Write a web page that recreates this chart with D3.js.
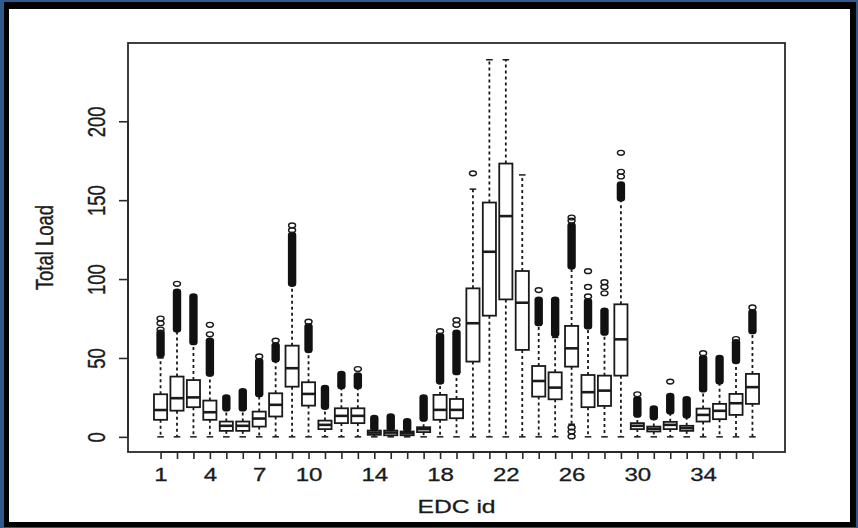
<!DOCTYPE html>
<html>
<head>
<meta charset="utf-8">
<script src="https://cdn.jsdelivr.net/npm/d3@7"></script>
<style>
  html, body { margin: 0; padding: 0; background: #2e5a8c; }
  svg { display: block; }
</style>
</head>
<body>
<svg id="chart" width="858" height="528"></svg>
<script>
// EDC ids and box statistics
const ids      = [1,2,3,4,5,6,7,8,9,10,11,12,13,14,15,16,17,18,19,20,21,22,23,24,25,26,27,28,29,30,31,32,33,34,35,36,37];
const q1       = [10.8,16.6,18.8,10.8,3.8,3.8,6.5,12.9,31.8,19.8,4.9,8.7,8.7,1.3,1.0,1.0,3.0,10.8,11.8,47.7,76.8,87.1,55.1,25.5,23.8,44.5,18.8,19.6,38.8,4.9,3.4,4.9,3.8,9.7,11.2,13.9,20.9];
const medians  = [17,24.5,25,15.6,7,7,11.6,20.3,43.5,27.2,7.6,13.3,13.3,2.7,2.7,2.3,4.9,17.1,17.1,72,117.3,139.9,85,35.4,31.2,56.1,28.3,29.3,61.8,7,5.1,7.6,5.5,13.9,16.5,21.3,31.5];
const q3       = [27,38.2,36,23,9.7,9.7,16,27.6,57.8,34.6,10.3,18.1,18.1,4.0,4.0,3.4,6.1,26.6,24,94.1,148.5,173.2,105.1,44.9,40.9,70.3,39.2,38.8,84,8.7,6.5,9.5,7,17.9,20.9,27.2,39.9];
const whiskLo  = [0,0,0,0,0,0,0,0,0,0,0,0,0,0,0,0,0,0,0,0,0,0,0,0,0,8,0,0,0,0,0,0,0,0,0,0,0];
const whiskHi  = [50,67,59,39,17,17,26,48,96,54,18,31,31,5,5,4.5,10.5,34,40,157,239,239,166,71,63,107,69,65,150,13,11.5,15,12.5,29,34,47,66];
// overplotted outlier runs (low, high) that print as solid black
const denseLo  = [52,68,60,40,18,18,27,49,97,55,19,32,32,5.5,5.5,5,11.5,35,41,null,null,null,null,72,65,108,70,66,151,14,12.5,16,13.5,30,35,48,67];
const denseHi  = [66,92,89,61,25,29,48,58,128,70,31,40,39,12,13,10,25,64,66,null,null,null,null,87,87,134,86,80,160,24,18,26,24,50,50,60,79];
// single visible outlier circles
const outliers = [[68,72,75],[97],[],[65,71],[],[],[51],[61],[131,134],[73],[],[],[43],[],[],[],[],[67],[71,74],[167],[],[],[],[93],[],[0.3,3.4,6,137,139],[89,95,105],[91,95,98],[165,168,180],[27],[],[35],[],[53],[],[62],[82]];

const yTicks = [0, 50, 100, 150, 200];
const xLabels = [1, 4, 7, 10, 14, 18, 22, 26, 30, 34];

const svg = d3.select("#chart");
const W = 858, H = 528;
const plot = { left: 128, right: 785, top: 43, bottom: 452 };
const stretch = 1.3;   // the source picture is widened horizontally
const ink = "#1a1a1a";
const font = "'Liberation Sans', Arial, Helvetica, sans-serif";

// page frame
svg.append("rect").attr("width", W).attr("height", H).attr("fill", "#2e5a8c");
svg.append("rect").attr("x", 4).attr("y", 2).attr("width", 852).attr("height", 525).attr("fill", "#000");
svg.append("rect").attr("x", 9).attr("y", 9).attr("width", 841).attr("height", 513).attr("fill", "#fff");

const x = d3.scaleLinear().domain([-0.98, 38.98]).range([plot.left, plot.right]);
const y = d3.scaleLinear().domain([-9.6, 249.6]).range([plot.bottom, plot.top]);

const step = x(2) - x(1);
const boxW = step * 0.8;
const stapleW = boxW * 0.5;
const rx = 3.5, ry = 2.4;

const data = ids.map((id, i) => ({
    id, q1: q1[i], med: medians[i], q3: q3[i],
    lo: whiskLo[i], hi: whiskHi[i],
    dLo: denseLo[i], dHi: denseHi[i], out: outliers[i]
}));

const g = svg.append("g");

const boxes = g.selectAll("g.box").data(data).enter().append("g")
    .attr("class", "box")
    .attr("transform", d => `translate(${x(d.id)},0)`);

// whiskers
boxes.append("line")
    .attr("x1", 0).attr("x2", 0)
    .attr("y1", d => y(d.q3)).attr("y2", d => y(d.hi))
    .attr("stroke", ink).attr("stroke-width", 1.8).attr("stroke-dasharray", "3,3");
boxes.append("line")
    .attr("x1", 0).attr("x2", 0)
    .attr("y1", d => y(d.q1)).attr("y2", d => y(d.lo))
    .attr("stroke", ink).attr("stroke-width", 1.8).attr("stroke-dasharray", "3,3");
boxes.append("line")
    .attr("x1", -stapleW / 2).attr("x2", stapleW / 2)
    .attr("y1", d => y(d.hi)).attr("y2", d => y(d.hi))
    .attr("stroke", ink).attr("stroke-width", 1.5);
boxes.append("line")
    .attr("x1", -stapleW / 2).attr("x2", stapleW / 2)
    .attr("y1", d => y(d.lo)).attr("y2", d => y(d.lo))
    .attr("stroke", ink).attr("stroke-width", 1.5);

// boxes and medians
boxes.append("rect")
    .attr("x", -boxW / 2).attr("width", boxW)
    .attr("y", d => y(d.q3)).attr("height", d => y(d.q1) - y(d.q3))
    .attr("fill", "#fff").attr("stroke", ink).attr("stroke-width", 1.8);
boxes.append("line")
    .attr("x1", -boxW / 2).attr("x2", boxW / 2)
    .attr("y1", d => y(d.med)).attr("y2", d => y(d.med))
    .attr("stroke", ink).attr("stroke-width", 2.6);

// dense outlier runs
boxes.filter(d => d.dLo !== null).append("rect")
    .attr("x", -rx - 0.7).attr("width", 2 * rx + 1.4)
    .attr("y", d => y(d.dHi) - ry - 0.7)
    .attr("height", d => y(d.dLo) - y(d.dHi) + 2 * ry + 1.4)
    .attr("rx", rx + 0.7).attr("ry", ry + 0.7)
    .attr("fill", "#111");

// single outliers
boxes.selectAll("ellipse").data(d => d.out).enter().append("ellipse")
    .attr("cx", 0).attr("cy", v => y(v))
    .attr("rx", rx).attr("ry", ry)
    .attr("fill", "none").attr("stroke", ink).attr("stroke-width", 1.4);

// plot frame
svg.append("rect")
    .attr("x", plot.left).attr("y", plot.top)
    .attr("width", plot.right - plot.left).attr("height", plot.bottom - plot.top)
    .attr("fill", "none").attr("stroke", "#2a2a2a").attr("stroke-width", 1.8);

// x axis
const xAxis = d3.axisBottom(x)
    .tickValues(ids)
    .tickSize(7)
    .tickSizeOuter(0)
    .tickFormat(d => xLabels.includes(d) ? String(d) : "");
const xg = svg.append("g").attr("transform", `translate(0,${plot.bottom})`).call(xAxis);
xg.select(".domain").attr("d", `M${x(1)},0H${x(37)}`).attr("stroke", "#2a2a2a").attr("stroke-width", 1.8);
xg.selectAll(".tick line").attr("stroke", "#2a2a2a").attr("stroke-width", 1.6);
xg.selectAll(".tick text")
    .attr("y", null).attr("dy", null)
    .attr("transform", `translate(0,23) scale(${stretch},1)`)
    .attr("dominant-baseline", "central")
    .attr("font-family", font).attr("font-size", 18.5)
    .attr("fill", ink).attr("stroke", ink).attr("stroke-width", 0.3);

// y axis
const yAxis = d3.axisLeft(y)
    .tickValues(yTicks)
    .tickSize(9)
    .tickSizeOuter(0)
    .tickFormat(d => String(d));
const yg = svg.append("g").attr("transform", `translate(${plot.left},0)`).call(yAxis);
yg.select(".domain").attr("d", `M0,${y(0)}V${y(200)}`).attr("stroke", "#2a2a2a").attr("stroke-width", 1.8);
yg.selectAll(".tick line").attr("stroke", "#2a2a2a").attr("stroke-width", 1.6);
yg.selectAll(".tick text")
    .attr("x", null).attr("dy", null)
    .attr("transform", `translate(-31,0) scale(${stretch},1) rotate(-90)`)
    .attr("text-anchor", "middle")
    .attr("dominant-baseline", "central")
    .attr("font-family", font).attr("font-size", 18.5)
    .attr("fill", ink).attr("stroke", ink).attr("stroke-width", 0.3);

// axis titles
svg.append("text")
    .attr("transform", `translate(${(plot.left + plot.right) / 2},507) scale(${stretch},1)`)
    .attr("text-anchor", "middle").attr("dominant-baseline", "central")
    .attr("font-family", font).attr("font-size", 19)
    .attr("fill", ink).attr("stroke", ink).attr("stroke-width", 0.3)
    .text("EDC id");
svg.append("text")
    .attr("transform", `translate(45,${(plot.top + plot.bottom) / 2}) scale(${stretch},1) rotate(-90)`)
    .attr("text-anchor", "middle").attr("dominant-baseline", "central")
    .attr("font-family", font).attr("font-size", 18.5)
    .attr("fill", ink).attr("stroke", ink).attr("stroke-width", 0.3)
    .text("Total Load");
</script>
</body>
</html>
